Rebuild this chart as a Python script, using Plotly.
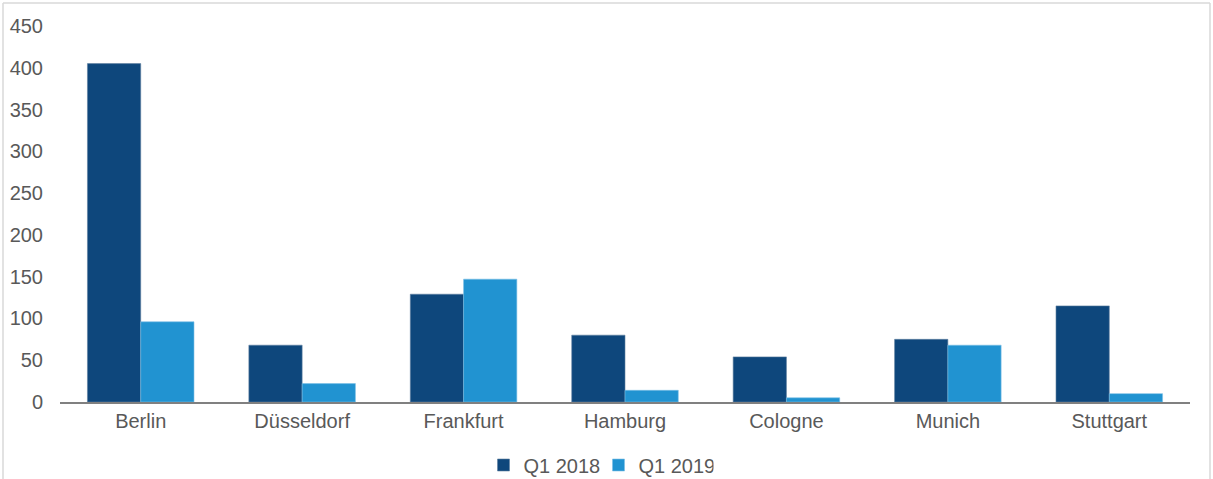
import plotly.graph_objects as go

cities = ["Berlin", "Düsseldorf", "Frankfurt", "Hamburg", "Cologne", "Munich", "Stuttgart"]
q1_2018 = [405, 68, 129, 80, 54, 75, 115]
q1_2019 = [96, 22, 147, 14, 5, 68, 10]
y_ticks = [0, 50, 100, 150, 200, 250, 300, 350, 400, 450]

dark = "#0E477C"
light = "#2193D1"
txt = "#595959"
fs = 20

fig = go.Figure()
fig.add_trace(go.Bar(x=cities, y=q1_2018, name="Q1 2018", marker=dict(color=dark, line=dict(color="#5F7FA0", width=0.6))))
fig.add_trace(go.Bar(x=cities, y=q1_2019, name="Q1 2019", marker=dict(color=light, line=dict(color="#7CC0E6", width=0.6))))

fig.update_layout(
    width=1213, height=479,
    margin=dict(l=60, r=23, t=26, b=77, autoexpand=False),
    paper_bgcolor="white", plot_bgcolor="white",
    barmode="group", bargap=0.34, bargroupgap=0,
    font=dict(family="Liberation Sans, Arial, sans-serif", size=fs, color=txt),
    showlegend=True,
    legend=dict(orientation="h", x=0.5 - 8/1213, xanchor="center", xref="container",
                y=14/479, yanchor="middle", yref="container",
                font=dict(size=fs, color=txt), itemwidth=30, entrywidth=70,
                traceorder="normal"),
    xaxis=dict(showgrid=False, showline=True, linecolor="#808080", linewidth=1.5,
               ticks="", tickfont=dict(size=fs, color=txt), automargin=False),
    yaxis=dict(range=[0, 450], tickvals=y_ticks, showgrid=False, showline=False,
               zeroline=False, ticks="", tickfont=dict(size=fs, color=txt),
               ticklabelstandoff=16, automargin=False),
    shapes=[
        dict(type="line", xref="paper", yref="paper", x0=-57/1130, x1=-57/1130, y0=-2, y1=23/376 + 1,
             line=dict(color="#D9D9D9", width=1.5)),
        dict(type="line", xref="paper", yref="paper", x0=-57/1130, x1=1 + 20/1130, y0=1 + 23/376, y1=1 + 23/376,
             line=dict(color="#D9D9D9", width=1.5)),
        dict(type="line", xref="paper", yref="paper", x0=1 + 20/1130, x1=1 + 20/1130, y0=-2, y1=1 + 23/376,
             line=dict(color="#D9D9D9", width=1.5)),
    ],
)

fig.write_html("out.html", config={"displayModeBar": False},
               post_script="document.body.style.margin='0';")
